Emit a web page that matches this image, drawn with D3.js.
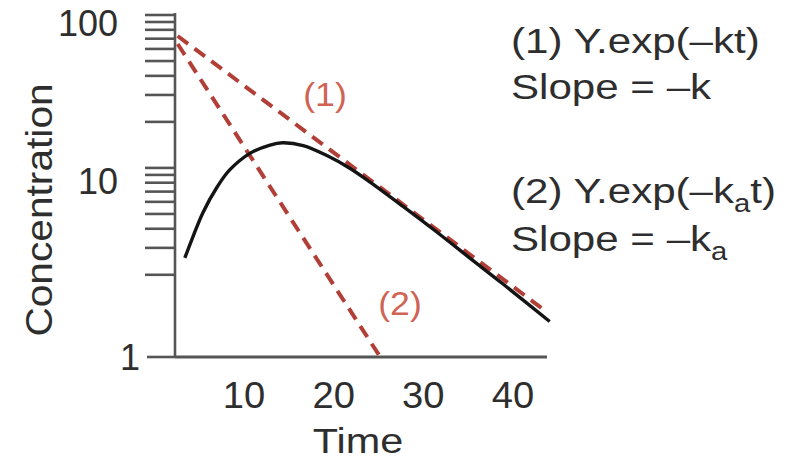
<!DOCTYPE html>
<html>
<head>
<meta charset="utf-8">
<script src="https://cdn.jsdelivr.net/npm/d3@7/dist/d3.min.js"></script>
<style>
  html, body { margin: 0; padding: 0; background: #fff; }
  svg { display: block; }
  text { font-family: "Liberation Sans", Arial, Helvetica, sans-serif; }
</style>
</head>
<body>
<svg id="chart" width="808" height="460"></svg>
<script>
// ---- data ----
const xTicks = [10, 20, 30, 40];
const yMajorTicks = [100, 10];
const yMinorTicks = [2, 3, 4, 5, 6, 7, 8, 9, 20, 30, 40, 50, 60, 70, 80, 90];
const yBottomLabel = "1";
const xDomain = [2.3, 43.8];
const yDomain = [0.58, 100];

// observed concentration curve (time, concentration)
const curveTime = [3.4, 4.3, 5.4, 7.0, 8.4, 10.7, 12.9, 14.3, 16.6, 19.3, 21.8, 24.1, 27.7, 31.5, 35.2, 38.9, 44.1];
const curveConc = [2.58, 3.54, 5.08, 7.5, 9.7, 12.5, 14.1, 14.6, 14.0, 12.0, 9.95, 8.04, 5.62, 3.81, 2.57, 1.74, 0.99];

// line (1): slope -k (terminal phase)
const line1Time = [2.6, 43.3];
const line1Conc = [72.9, 1.2];
// line (2): slope -ka (absorption phase)
const line2Time = [2.6, 25.2];
const line2Conc = [64.6, 0.58];

const xLabel = "Time";
const yLabel = "Concentration";
const ann1 = ["(1) Y.exp(–kt)", "Slope = –k"];
const ann2 = ["(2) Y.exp(–k", "a", "t)", "Slope = –k", "a"];

// ---- drawing ----
const svg = d3.select("#chart");
const x = d3.scaleLinear().domain(xDomain).range([175, 547]);
const y = d3.scaleLog().domain(yDomain).range([357, 15]);

const axisColor = "#555";
const textColor = "#2e2e2e";
const red = "#b23f37";
const labelRed = "#cf6455";

// y minor/major ticks
const tickVals = yMajorTicks.concat(yMinorTicks);
svg.append("g").selectAll("line").data(tickVals).join("line")
  .attr("x1", x.range()[0] - 30).attr("x2", x.range()[0])
  .attr("y1", d => y(d)).attr("y2", d => y(d))
  .attr("stroke", axisColor).attr("stroke-width", 2.6);
// bottom tick
svg.append("line")
  .attr("x1", x.range()[0] - 28).attr("x2", x.range()[0])
  .attr("y1", y.range()[0]).attr("y2", y.range()[0])
  .attr("stroke", axisColor).attr("stroke-width", 2.6);

// axis lines
svg.append("line")
  .attr("x1", x.range()[0]).attr("x2", x.range()[0])
  .attr("y1", y.range()[1] - 2).attr("y2", y.range()[0] + 1)
  .attr("stroke", axisColor).attr("stroke-width", 2.6);
svg.append("line")
  .attr("x1", x.range()[0]).attr("x2", x.range()[1])
  .attr("y1", y.range()[0]).attr("y2", y.range()[0])
  .attr("stroke", axisColor).attr("stroke-width", 2.8);

// helper: horizontally stretched text
function stext(parent, px, py, sx, str, size, anchor, fill) {
  return parent.append("text")
    .attr("transform", `translate(${px},${py}) scale(${sx},1)`)
    .attr("text-anchor", anchor || "start")
    .attr("font-size", size).attr("fill", fill || textColor)
    .text(str);
}

// y labels
svg.append("g").selectAll("text").data(yMajorTicks).join("text")
  .attr("x", 118).attr("y", d => y(d) + (d === 10 ? 26 : 21))
  .attr("text-anchor", "end").attr("font-size", 36).attr("fill", textColor)
  .text(d => d);
svg.append("text")
  .attr("x", 140).attr("y", y.range()[0] + 13)
  .attr("text-anchor", "end").attr("font-size", 36).attr("fill", textColor)
  .text(yBottomLabel);

// x labels
svg.append("g").selectAll("text").data(xTicks).join("text")
  .attr("transform", d => `translate(${x(d)},408) scale(1.06,1)`)
  .attr("text-anchor", "middle").attr("font-size", 36).attr("fill", textColor)
  .text(d => d);

stext(svg, (x.range()[0] + x.range()[1]) / 2 - 3, 453, 1.15, xLabel, 36, "middle");

svg.append("text")
  .attr("transform", "translate(52,210) rotate(-90) scale(1.13,1)")
  .attr("text-anchor", "middle").attr("font-size", 36).attr("fill", textColor)
  .text(yLabel);

// dashed lines
const lineGen = d3.line().x(d => x(d[0])).y(d => y(d[1]));
function drawDashed(ts, cs) {
  svg.append("path")
    .attr("d", lineGen(ts.map((t, i) => [t, cs[i]])))
    .attr("fill", "none").attr("stroke", red)
    .attr("stroke-width", 4).attr("stroke-dasharray", "13,8");
}
drawDashed(line1Time, line1Conc);
drawDashed(line2Time, line2Conc);

// concentration curve
svg.append("path")
  .attr("d", d3.line().curve(d3.curveCatmullRom.alpha(0.5))
    .x(d => x(d[0])).y(d => y(d[1]))(curveTime.map((t, i) => [t, curveConc[i]])))
  .attr("fill", "none").attr("stroke", "#141414").attr("stroke-width", 3.4);

// line labels
stext(svg, 325, 106, 1.08, "(1)", 33, "middle", labelRed);
stext(svg, 400, 315, 1.08, "(2)", 33, "middle", labelRed);

// annotations
const ann = svg.append("g");
stext(ann, 511, 53, 1.17, ann1[0], 36);
stext(ann, 511, 99, 1.17, ann1[1], 36);
const t2 = stext(ann, 511, 203, 1.17, "", 36);
t2.append("tspan").text(ann2[0]);
t2.append("tspan").attr("font-size", 25).attr("dy", 9).text(ann2[1]);
t2.append("tspan").attr("dy", -9).text(ann2[2]);
const t3 = stext(ann, 511, 251, 1.17, "", 36);
t3.append("tspan").text(ann2[3]);
t3.append("tspan").attr("font-size", 25).attr("dy", 9).text(ann2[4]);
</script>
</body>
</html>
